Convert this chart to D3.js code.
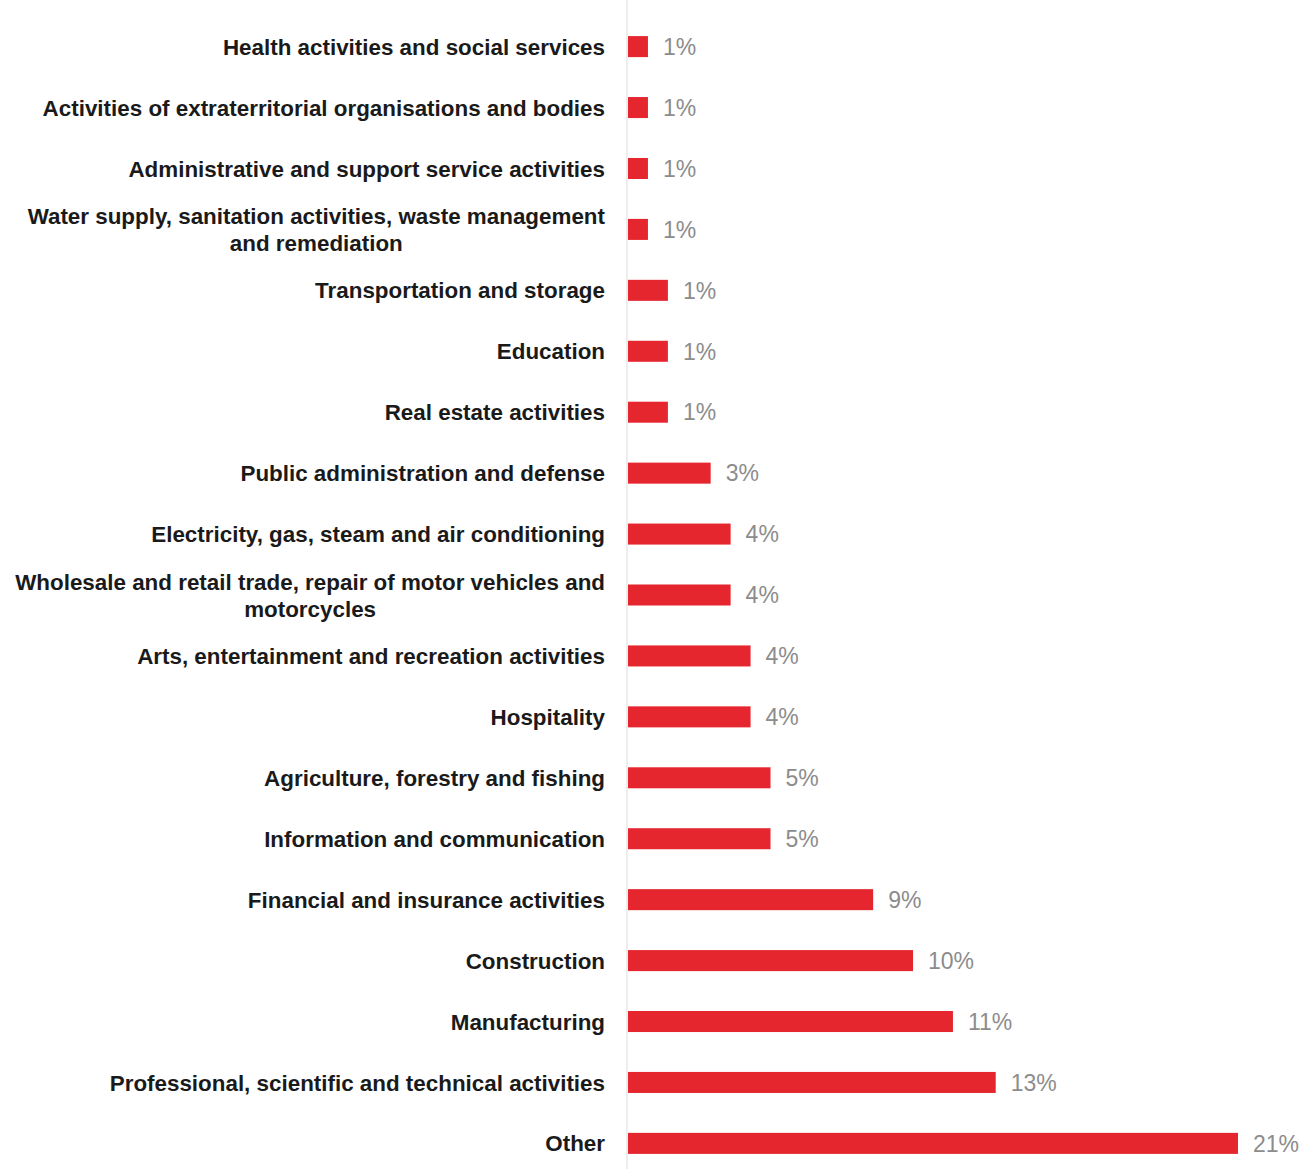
<!DOCTYPE html>
<html><head><meta charset="utf-8">
<script src="https://cdn.jsdelivr.net/npm/d3@7"></script>
<style>body{margin:0;background:#fff}</style>
</head><body><svg id="c" width="1316" height="1169"></svg>
<script>
const categories = [
  ["Health activities and social services"],
  ["Activities of extraterritorial organisations and bodies"],
  ["Administrative and support service activities"],
  ["Water supply, sanitation activities, waste management", "and remediation"],
  ["Transportation and storage"],
  ["Education"],
  ["Real estate activities"],
  ["Public administration and defense"],
  ["Electricity, gas, steam and air conditioning"],
  ["Wholesale and retail trade, repair of motor vehicles and", "motorcycles"],
  ["Arts, entertainment and recreation activities"],
  ["Hospitality"],
  ["Agriculture, forestry and fishing"],
  ["Information and communication"],
  ["Financial and insurance activities"],
  ["Construction"],
  ["Manufacturing"],
  ["Professional, scientific and technical activities"],
  ["Other"]
];
const values = [0.7, 0.7, 0.7, 0.7, 1.4, 1.4, 1.4, 2.9, 3.6, 3.6, 4.3, 4.3, 5.0, 5.0, 8.6, 10.0, 11.4, 12.9, 21.4];
const valueLabels = ["1%","1%","1%","1%","1%","1%","1%","3%","4%","4%","4%","4%","5%","5%","9%","10%","11%","13%","21%"];

const svg = d3.select("#c");
const x0 = 628;
const x = d3.scaleLinear().domain([0, 21.4]).range([x0, 1238]);
const y = d3.scaleBand().domain(d3.range(categories.length)).range([16, 1174]).paddingInner(0.655).paddingOuter(0.33);

svg.append("line").attr("x1", x0 - 1).attr("x2", x0 - 1).attr("y1", 0).attr("y2", 1169)
  .attr("stroke", "#e2e2e2").attr("stroke-width", 1.2);

svg.selectAll("rect.bar").data(values).join("rect").attr("class", "bar")
  .attr("x", x0).attr("y", (d, i) => y(i)).attr("height", y.bandwidth())
  .attr("width", d => x(d) - x0).attr("fill", "#e5262e");

svg.selectAll("text.val").data(values).join("text").attr("class", "val")
  .attr("x", d => x(d) + 15).attr("y", (d, i) => y(i) + y.bandwidth() / 2)
  .attr("dy", "0.36em").attr("fill", "#8c8c8c")
  .attr("font-family", "Liberation Sans, Arial, sans-serif").attr("font-size", 23)
  .text((d, i) => valueLabels[i]);

const right = 605;
const lineH = 27;
categories.forEach((lines, i) => {
  const cy = y(i) + y.bandwidth() / 2;
  const g = svg.append("g");
  const ts = lines.map((ln, k) => g.append("text")
    .attr("font-family", "Liberation Sans, Arial, sans-serif").attr("font-size", 22.4)
    .attr("font-weight", "bold").attr("fill", "#1a1a1a")
    .attr("text-anchor", "middle").attr("dy", "0.36em")
    .attr("y", cy + (k - (lines.length - 1) / 2) * lineH).text(ln));
  const w = d3.max(ts, t => t.node().getComputedTextLength());
  ts.forEach(t => t.attr("x", right - w / 2));
});
</script></body></html>
